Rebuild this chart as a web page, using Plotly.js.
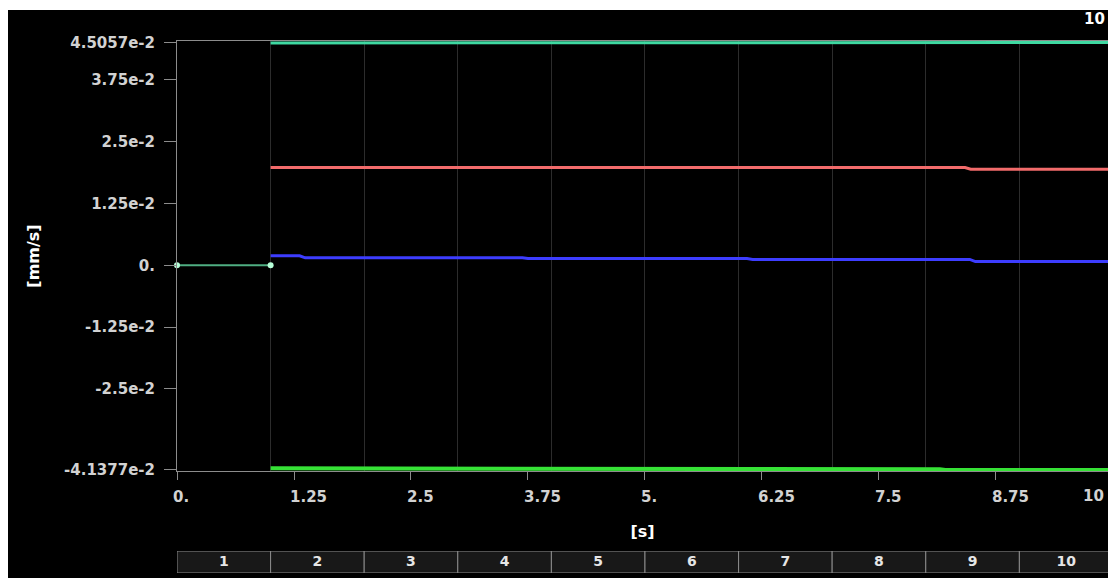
<!DOCTYPE html>
<html>
<head>
<meta charset="utf-8">
<script src="https://cdn.plot.ly/plotly-3.0.1.min.js"></script>
<style>
  html, body { margin: 0; padding: 0; background: #ffffff; width: 1108px; height: 578px; overflow: hidden; }
  #chart { position: absolute; left: 8px; top: 10px; width: 1100px; height: 568px; }
</style>
</head>
<body>
<div id="chart"></div>
<script>
// ---- data ----
var startX = [0, 1];
var startY = [0, 0];

var tealX = [1, 6.04, 6.1, 10];
var tealY = [0.04495, 0.04495, 0.045057, 0.045057];

var redX = [1, 8.42, 8.48, 10];
var redY = [0.01977, 0.01977, 0.01943, 0.01943];

var blueX = [1, 1.31, 1.37, 3.69, 3.75, 6.09, 6.15, 8.47, 8.53, 10];
var blueY = [0.00191, 0.00191, 0.00151, 0.00151, 0.00135, 0.00135, 0.00119, 0.00119, 0.00074, 0.00074];

var greenX = [1, 4.45, 4.51, 8.15, 8.21, 10];
var greenY = [-0.04106, -0.04106, -0.04126, -0.04126, -0.041377, -0.041377];

var segmentCenters = [0.5, 1.5, 2.5, 3.5, 4.5, 5.5, 6.5, 7.5, 8.5, 9.5];
var segmentHeights = [1, 1, 1, 1, 1, 1, 1, 1, 1, 1];
var segmentLabelY = [0.5, 0.5, 0.5, 0.5, 0.5, 0.5, 0.5, 0.5, 0.5, 0.5];
var segmentLabels = ['1', '2', '3', '4', '5', '6', '7', '8', '9', '10'];

var xTickVals = [0, 1.25, 2.5, 3.75, 5, 6.25, 7.5, 8.75];
var xTickText = ['0.', '1.25', '2.5', '3.75', '5.', '6.25', '7.5', '8.75'];
var yTickVals = [-0.041377, -0.025, -0.0125, 0, 0.0125, 0.025, 0.0375, 0.045057];
var yTickText = ['-4.1377e-2', '-2.5e-2', '-1.25e-2', '0.', '1.25e-2', '2.5e-2', '3.75e-2', '4.5057e-2'];

// ---- traces ----
var FONT = 'DejaVu Sans';
var traces = [
  { x: startX, y: startY, xaxis: 'x2', yaxis: 'y', mode: 'lines+markers', type: 'scatter',
    line: { color: '#4fae82', width: 2 }, marker: { color: '#b6ffd8', size: 6 }, cliponaxis: false, hoverinfo: 'skip' },
  { x: tealX, y: tealY, mode: 'lines', type: 'scatter', line: { color: '#3fd9a2', width: 3 }, hoverinfo: 'skip' },
  { x: redX, y: redY, mode: 'lines', type: 'scatter', line: { color: '#f26b6b', width: 3 }, hoverinfo: 'skip' },
  { x: blueX, y: blueY, mode: 'lines', type: 'scatter', line: { color: '#3d3dff', width: 3 }, hoverinfo: 'skip' },
  { x: greenX, y: greenY, mode: 'lines', type: 'scatter', line: { color: '#36e236', width: 4 }, hoverinfo: 'skip' },
  { x: segmentCenters, y: segmentHeights, type: 'bar', xaxis: 'x', yaxis: 'y2', width: 1,
    marker: { color: '#181818', line: { color: '#8c8c8c', width: 1 } },
    textposition: 'none', hoverinfo: 'skip' },
  { x: segmentCenters, y: segmentLabelY, type: 'scatter', mode: 'text', xaxis: 'x', yaxis: 'y2',
    text: segmentLabels, textposition: 'middle center', cliponaxis: true,
    textfont: { family: FONT, size: 14, color: '#e6e6e6', weight: 'bold' }, hoverinfo: 'skip' }
];

var xRange = [0, 9.947];
var yRange = [-0.04160, 0.04535];

var layout = {
  width: 1100, height: 568,
  margin: { l: 169, r: 0, t: 31, b: 5, pad: 0 },
  paper_bgcolor: '#000000', plot_bgcolor: '#000000',
  showlegend: false,
  font: { family: FONT, color: '#d2d2d2', size: 15 },
  xaxis: {
    range: xRange, anchor: 'y', tickmode: 'array', tickvals: xTickVals, ticktext: xTickText,
    ticks: 'outside', ticklen: 8, tickcolor: '#8c8c8c', tickwidth: 1,
    ticklabelposition: 'outside right', ticklabelshift: -5, ticklabelstandoff: 12,
    tickfont: { family: FONT, size: 15, color: '#d2d2d2', weight: 'bold' },
    showline: true, linecolor: '#8c8c8c', linewidth: 1, mirror: true,
    showgrid: false, zeroline: false,
    title: { text: '[s]', font: { family: FONT, size: 16, color: '#ffffff', weight: 'bold' }, standoff: 20 },
    automargin: false
  },
  xaxis2: {
    range: xRange, overlaying: 'x', anchor: 'y', tickmode: 'linear', tick0: 0, dtick: 1,
    showgrid: true, gridcolor: '#2c2c2c', gridwidth: 1, showticklabels: false, ticks: '',
    showline: false, zeroline: false
  },
  yaxis: {
    domain: [0.1917, 1], range: yRange, tickmode: 'array', tickvals: yTickVals, ticktext: yTickText,
    ticks: 'outside', ticklen: 12, tickcolor: '#8c8c8c', tickwidth: 1, ticklabelstandoff: 6,
    tickfont: { family: FONT, size: 15, color: '#d2d2d2', weight: 'bold' },
    showline: true, linecolor: '#8c8c8c', linewidth: 1,
    showgrid: false, zeroline: false,
    title: { text: '[mm/s]', font: { family: FONT, size: 16, color: '#ffffff', weight: 'bold' }, standoff: 20 },
    automargin: false
  },
  yaxis2: { domain: [0, 0.04135], range: [0, 1], visible: false, fixedrange: true },
  annotations: [
    { text: '10', xref: 'paper', yref: 'paper', x: 0.9839, y: 0.1447, xanchor: 'center', yanchor: 'middle',
      showarrow: false, font: { family: FONT, size: 15, color: '#d2d2d2', weight: 'bold' } },
    { text: '10', xref: 'paper', yref: 'paper', x: 0.986, y: 1.0414, xanchor: 'center', yanchor: 'middle',
      showarrow: false, font: { family: FONT, size: 15, color: '#ffffff', weight: 'bold' } }
  ]
};

Plotly.newPlot('chart', traces, layout, { displayModeBar: false, staticPlot: true });
</script>
</body>
</html>
